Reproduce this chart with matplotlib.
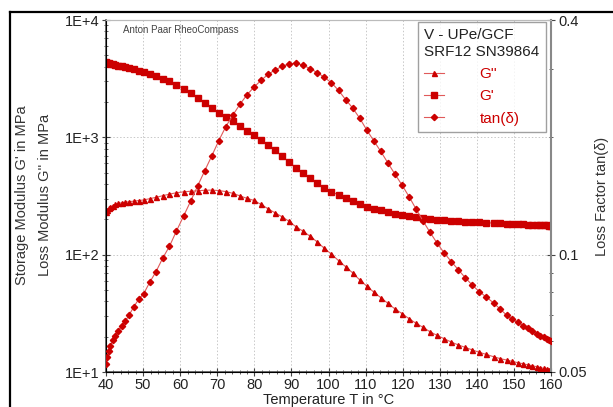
import matplotlib
matplotlib.use("Agg")
import matplotlib.pyplot as plt
from matplotlib.ticker import LogLocator, FixedLocator, FixedFormatter, MultipleLocator, NullFormatter
from matplotlib.lines import Line2D

plt.rcParams['font.family'] = ['Liberation Sans', 'DejaVu Sans']

# Temperature (°C)
temperature = [40.0, 40.3, 40.7, 41.2, 41.8, 42.5, 43.3, 44.2, 45.2, 46.3, 47.5, 48.8, 50.2, 51.8,
               53.5, 55.3, 57.1, 59.0, 60.9, 62.8, 64.7, 66.6, 68.5, 70.4, 72.3, 74.2, 76.1, 78.0,
               79.9, 81.8, 83.7, 85.6, 87.5, 89.4, 91.3, 93.2, 95.1, 97.0, 98.9, 100.8, 102.7, 104.6,
               106.5, 108.4, 110.3, 112.2, 114.1, 116.0, 117.9, 119.8, 121.7, 123.6, 125.5, 127.4,
               129.3, 131.2, 133.1, 135.0, 136.9, 138.8, 140.7, 142.6, 144.5, 146.3, 148.0, 149.6,
               151.1, 152.5, 153.8, 155.0, 156.1, 157.1, 158.0, 158.8, 159.5, 160.0]

# Storage modulus G' (MPa)
g_storage = [4350, 4300, 4270, 4230, 4190, 4140, 4080, 4020, 3950, 3880, 3800, 3710, 3600, 3480,
             3330, 3170, 3000, 2800, 2600, 2400, 2180, 1980, 1790, 1620, 1500, 1380, 1250, 1140,
             1050, 955, 860, 775, 690, 615, 550, 495, 447, 405, 372, 345, 322, 302,
             285, 270, 257, 247, 238, 230, 224, 218, 213, 209, 205, 202,
             199, 197, 195, 193, 191, 189, 188, 187, 186, 185, 184, 183,
             182, 181, 180, 179.5, 179, 178.5, 178, 177.5, 177, 176.5]

# Loss modulus G'' (MPa)
g_loss = [232, 240, 248, 256, 262, 268, 273, 277, 280, 283, 286, 289, 293, 300,
          308, 318, 328, 337, 343, 347, 350, 354, 355, 352, 345, 333, 317, 302,
          290, 268, 246, 227, 210, 192, 172, 158, 143, 128, 113, 101, 89, 79,
          70, 61, 54, 48, 43, 38.5, 34.5, 31.5, 28.5, 26, 24, 22,
          20.5, 19.2, 18, 17, 16.2, 15.4, 14.7, 14.1, 13.5, 13.0, 12.65, 12.3,
          12.0, 11.75, 11.5, 11.3, 11.1, 10.9, 10.75, 10.6, 10.5, 10.4]

# Loss factor tan(delta)
tan_delta = [0.0525, 0.0545, 0.0565, 0.0583, 0.0603, 0.0618, 0.0637, 0.0655, 0.0675, 0.0702, 0.0735,
             0.0768, 0.0795, 0.0850, 0.0905, 0.0980, 0.1050, 0.1150, 0.1255, 0.1370, 0.150, 0.164,
             0.179, 0.196, 0.213, 0.228, 0.243, 0.257, 0.269, 0.280, 0.290, 0.298, 0.304, 0.309,
             0.310, 0.306, 0.300, 0.293, 0.285, 0.276, 0.264, 0.250, 0.238, 0.224, 0.209, 0.196,
             0.184, 0.172, 0.161, 0.151, 0.141, 0.131, 0.122, 0.114, 0.107, 0.101, 0.0960, 0.0915,
             0.0872, 0.0835, 0.0803, 0.0778, 0.0752, 0.0725, 0.0700, 0.0682, 0.0670, 0.0658,
             0.0647, 0.0636, 0.0627, 0.0620, 0.0614, 0.0609, 0.0605, 0.0602]

x_ticks = [40, 50, 60, 70, 80, 90, 100, 110, 120, 130, 140, 150, 160]
left_ticks = [10, 100, 1000, 10000]
left_labels = ["1E+1", "1E+2", "1E+3", "1E+4"]
right_ticks = [0.05, 0.1, 0.4]
right_labels = ["0.05", "0.1", "0.4"]

legend_title = "V - UPe/GCF\nSRF12 SN39864"
series_labels = ["G''", "G'", "tan(\u03b4)"]

RED = "#cc0000"
LINE = "#e05a5a"

fig = plt.figure(figsize=(6.13, 4.07), dpi=100)
ax = fig.add_axes([106/613, 1-372/407, 445/613, 352/407])
ax2 = ax.twinx()

ax.set_xlim(40, 160)
ax.set_yscale('log')
ax.set_ylim(10, 10000)
ax2.set_yscale('log')
ax2.set_ylim(0.05, 0.4)

h1, = ax.plot(temperature, g_loss, color=LINE, lw=0.8, marker='^', ms=3.6,
              mfc=RED, mec=RED, zorder=3)
h2, = ax.plot(temperature, g_storage, color=LINE, lw=0.8, marker='s', ms=4.8,
              mfc=RED, mec=RED, zorder=3)
h3, = ax2.plot(temperature, tan_delta, color=LINE, lw=0.8, marker='D', ms=3.2,
               mfc=RED, mec=RED, zorder=3)

# ticks
ax.xaxis.set_major_locator(FixedLocator(x_ticks))
ax.xaxis.set_minor_locator(MultipleLocator(2))
ax.yaxis.set_major_locator(FixedLocator(left_ticks))
ax.yaxis.set_major_formatter(FixedFormatter(left_labels))
ax.yaxis.set_minor_locator(LogLocator(base=10, subs=range(2, 10)))
ax.yaxis.set_minor_formatter(NullFormatter())
ax2.yaxis.set_major_locator(FixedLocator(right_ticks))
ax2.yaxis.set_major_formatter(FixedFormatter(right_labels))
ax2.yaxis.set_minor_locator(FixedLocator([0.06, 0.07, 0.08, 0.09, 0.2, 0.3]))
ax2.yaxis.set_minor_formatter(NullFormatter())

for a in (ax, ax2):
    a.tick_params(which='major', direction='inout', length=6, width=0.8, labelsize=10.5,
                  colors='#444444', labelcolor='#222222', pad=2)
    a.tick_params(which='minor', direction='inout', length=3, width=0.6, colors='#444444')
ax.tick_params(axis='x', pad=1)

ax.grid(True, which='major', color='#c8c8c8', ls=(0, (1.5, 2)), lw=0.7)
ax.set_axisbelow(True)

for s in ['left', 'bottom']:
    ax.spines[s].set_color('#555555')
    ax.spines[s].set_linewidth(1.2)
ax.spines['top'].set_color('#bbbbbb')
ax2.spines['top'].set_color('#bbbbbb')
ax2.spines['right'].set_color('#888888')
ax2.spines['right'].set_linewidth(1.5)
ax.spines['right'].set_visible(False)

ax.set_xlabel("Temperature T in \u00b0C", fontsize=10.5, color='#222222', labelpad=1)
ax2.set_ylabel("Loss Factor tan(\u03b4)", fontsize=10.5, color='#333333', labelpad=6)

fig.text(22/613, 1-195/407, "Storage Modulus G' in MPa", rotation=90, ha='center', va='center',
         fontsize=10.5, color='#333333')
fig.text(45/613, 1-195/407, "Loss Modulus G'' in MPa", rotation=90, ha='center', va='center',
         fontsize=10.5, color='#333333')

ax.text(123/613, 1-30/407, "Anton Paar RheoCompass", transform=fig.transFigure,
        fontsize=7, color='#444444', va='center', ha='left')

leg = ax2.legend([h1, h2, h3], series_labels, title=legend_title, loc='upper left',
                 bbox_to_anchor=(418/613, 1-22/407), bbox_transform=fig.transFigure,
                 fontsize=11, title_fontsize=11, frameon=True, fancybox=False,
                 edgecolor='#888888', handlelength=1.3, handletextpad=2.3,
                 borderpad=0.42, borderaxespad=0, labelspacing=0.55, alignment='left')
leg.get_frame().set_linewidth(1.0)
for t in leg.get_texts():
    t.set_color(RED)
leg.get_title().set_color('#222222')

# figure frame
fig.add_artist(Line2D([10/613, 10/613], [0, 1-12/407], transform=fig.transFigure,
                      color='black', lw=1.6))
fig.add_artist(Line2D([10/613, 1], [1-12/407, 1-12/407], transform=fig.transFigure,
                      color='black', lw=1.6))

fig.savefig("out.png", dpi=100)
